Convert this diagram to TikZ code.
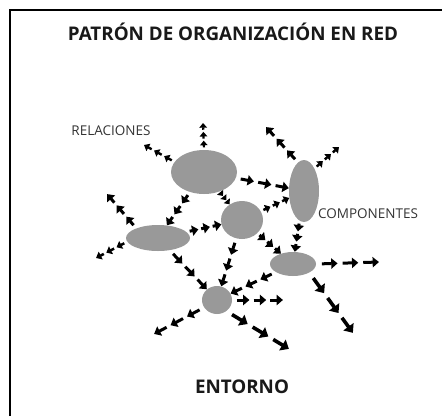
\documentclass[tikz,border=0pt]{standalone}
\usepackage{fontspec}
\setmainfont{Open Sans}
\usetikzlibrary{shapes.geometric, arrows.meta, decorations.markings}

\tikzstyle{component} = [ellipse, fill=black!40, draw=none, inner sep=0pt]
\tikzstyle{heading} = [font=\bfseries\fontsize{18.8}{21}\selectfont, text=black!90]
\tikzstyle{tag} = [font=\fontsize{13.5}{15}\selectfont, text=black!80]
\tikzstyle{relseg} = [-{Triangle[length=0pt 2.1, width=0pt 3.4]}]
\tikzstyle{relation} = [line width=3pt, decoration={markings,
    mark=at position 0.34 with {\draw [relseg] (-0.25*\pgfdecoratedpathlength,0) -- (0,0);},
    mark=at position 0.67 with {\draw [relseg] (-0.25*\pgfdecoratedpathlength,0) -- (0,0);},
    mark=at position 0.999 with {\draw [relseg] (-0.25*\pgfdecoratedpathlength,0) -- (0,0);}},
    postaction={decorate}]

\begin{document}
\begin{tikzpicture}[x=1pt, y=-1pt]

    \useasboundingbox (0,0) rectangle (442,416);
    \draw [line width=1.8pt] (10,416) -- (10,10) -- (442,10);

    \node (title) [heading] at (233,32) {PATRÓN DE ORGANIZACIÓN EN RED};
    \node (environment) [heading] at (242,387) {ENTORNO};
    \node (relations) [tag] at (111,131) {RELACIONES};
    \node (components) [tag] at (368,214) {COMPONENTES};

    \node (big) [component, minimum width=66pt, minimum height=44pt] at (204,172) {};
    \node (mid) [component, minimum width=42pt, minimum height=38pt] at (242,220) {};
    \node (flat) [component, minimum width=64pt, minimum height=26pt] at (158,238) {};
    \node (tall) [component, minimum width=30pt, minimum height=62pt] at (304,191) {};
    \node (low) [component, minimum width=46pt, minimum height=24pt] at (293,264) {};
    \node (foot) [component, minimum width=30pt, minimum height=28pt] at (217,300) {};

    \coordinate (big_up) at (203,123);
    \coordinate (big_left) at (144,145);
    \coordinate (flat_up) at (107,194);
    \coordinate (flat_left) at (96,258);
    \coordinate (tall_left) at (266,127);
    \coordinate (tall_right) at (339,147);
    \coordinate (low_right) at (379,262);
    \coordinate (low_down) at (353,333);
    \coordinate (foot_right) at (283,300);
    \coordinate (foot_down) at (289,349);
    \coordinate (foot_left) at (154,334);

    \path [relation, line width=2.2pt] (big.north) -- (big_up);
    \path [relation, line width=2.4pt] (big.161) -- (big_left);
    \path [relation] (big) -- (tall);
    \path [relation] (big) -- (flat);
    \path [relation, line width=2.2pt] (big) -- (mid);
    \path [relation] (flat) -- (mid);
    \path [relation, line width=2.5pt] (mid) -- (tall);
    \path [relation] (mid) -- (foot);
    \path [relation] (mid) -- (low);
    \path [relation] (flat.156) -- (flat_up);
    \path [relation, line width=2.5pt] (flat.187) -- (flat_left);
    \path [relation] (flat) -- (foot);
    \path [relation] (tall.102) -- (tall_left);
    \path [relation, line width=2.4pt] (tall.65) -- (tall_right);
    \path [relation] (tall) -- (low);
    \path [relation] (low.east) -- (low_right);
    \path [relation, line width=3.6pt] (low.-28) -- (low_down);
    \path [relation] (low) -- (foot);
    \path [relation] (foot.east) -- (foot_right);
    \path [relation, line width=3.6pt] (foot.-50) -- (foot_down);
    \path [relation] (foot.210) -- (foot_left);
\end{tikzpicture}
\end{document}
